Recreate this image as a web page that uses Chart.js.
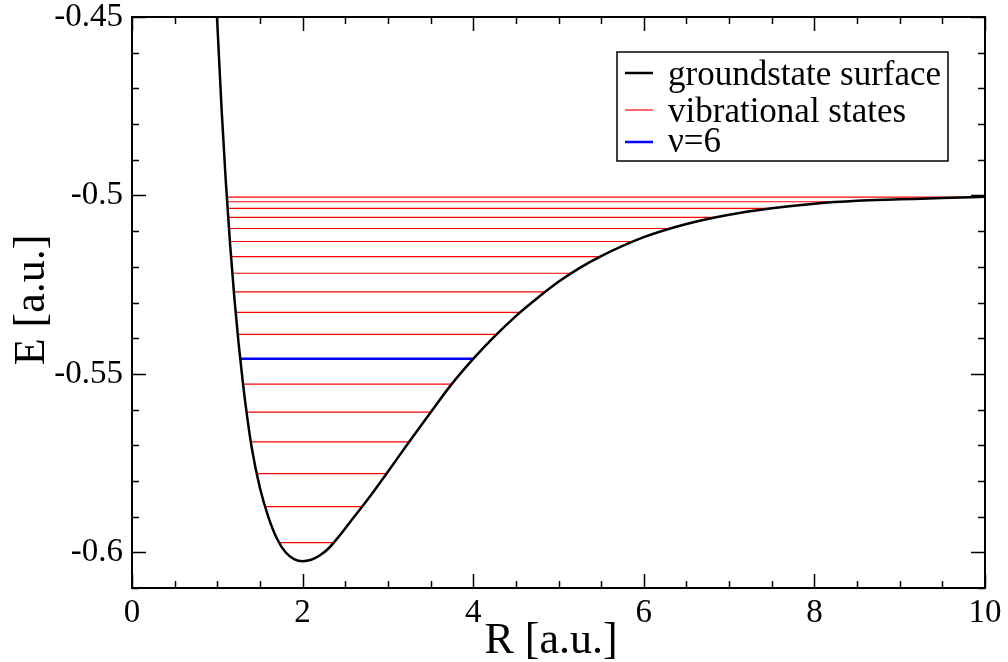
<!DOCTYPE html>
<html>
<head>
<meta charset="utf-8">
<script src="https://cdn.jsdelivr.net/npm/chart.js@4/dist/chart.umd.min.js"></script>
<style>
  html, body { margin: 0; padding: 0; background: #fff; }
  canvas { display: block; }
</style>
</head>
<body>
<canvas id="pes" width="1008" height="662"></canvas>
<script>
// groundstate surface, E(R)
const curveR = [0.99, 1.0, 1.05, 1.1, 1.15, 1.2, 1.25, 1.3, 1.35, 1.4, 1.5, 1.6, 1.7, 1.8, 1.9, 2.0,
    2.1, 2.2, 2.3, 2.4, 2.6, 2.8, 3.0, 3.25, 3.5, 3.75, 4.0, 4.25, 4.5, 4.75, 5.0, 5.25, 5.5,
    6.0, 6.5, 7.0, 7.5, 8.0, 8.5, 9.0, 9.5, 10.0];
const curveE = [-0.4473, -0.4517, -0.4757, -0.4962, -0.5137, -0.5287, -0.5415, -0.5525, -0.5620, -0.5702,
    -0.5820, -0.5902, -0.5962, -0.6000, -0.6019, -0.6025, -0.6021, -0.6009, -0.5990, -0.5963,
    -0.5902, -0.5840, -0.5774, -0.5690, -0.5608, -0.5528, -0.5458, -0.5395, -0.5338, -0.5288,
    -0.5242, -0.5203, -0.5170, -0.5117, -0.5080, -0.5054, -0.5036, -0.5023, -0.5015, -0.5011,
    -0.5007, -0.5004];

// vibrational levels: energy and classical turning points
const levelE = [-0.59731, -0.58720, -0.57794, -0.56904, -0.56071, -0.55285, -0.54575, -0.53893,
    -0.53275, -0.52703, -0.52181, -0.51712, -0.51291, -0.50926, -0.50617, -0.50365, -0.50177, -0.50048];
const levelRin = [1.715, 1.559, 1.462, 1.395, 1.345, 1.305, 1.266, 1.246, 1.219, 1.199, 1.184,
    1.169, 1.157, 1.149, 1.137, 1.129, 1.122, 1.110];
const levelRout = [2.368, 2.705, 2.986, 3.247, 3.502, 3.748, 4.001, 4.275, 4.549, 4.842, 5.143,
    5.506, 5.873, 6.307, 6.835, 7.49, 8.335, 9.79];
const highlightLevel = 6;

const xTicks = [0, 2, 4, 6, 8, 10];
const yTicks = [-0.6, -0.55, -0.5, -0.45];
const yTickLabels = ["-0.6", "-0.55", "-0.5", "-0.45"];

const seriesLabels = ["groundstate surface", "vibrational states", "\u03bd=6"];
const seriesColors = ["#000000", "#ff0000", "#0000ff"];

const SERIF = "'Liberation Serif', 'Times New Roman', serif";

// build datasets
const curvePoints = curveR.map((r, i) => ({ x: r, y: curveE[i] }));
const levelPoints = [];
levelE.forEach((e, i) => {
    if (i === highlightLevel) return;
    levelPoints.push({ x: levelRin[i], y: e }, { x: levelRout[i], y: e }, { x: null, y: null });
});
const bluePoints = [
    { x: levelRin[highlightLevel], y: levelE[highlightLevel] },
    { x: levelRout[highlightLevel], y: levelE[highlightLevel] }
];

// frame, inward ticks, axis titles and legend box (xmgrace look)
const gracePlugin = {
    id: "grace",
    afterDraw(chart) {
        const { ctx, chartArea: a, scales } = chart;
        const xs = scales.x, ys = scales.y;
        ctx.save();
        ctx.strokeStyle = "#000";
        ctx.lineWidth = 1.5;
        ctx.beginPath();
        for (let v = 0; v <= 10.001; v += 0.5) {
            const px = Math.round(xs.getPixelForValue(v)) + 0.5;
            const len = Math.abs(v / 2 - Math.round(v / 2)) < 1e-6 ? 14 : 7;
            ctx.moveTo(px, a.bottom); ctx.lineTo(px, a.bottom - len);
            ctx.moveTo(px, a.top); ctx.lineTo(px, a.top + len);
        }
        for (let k = -61; k <= -45; k++) {
            const v = k / 100;
            const py = Math.round(ys.getPixelForValue(v)) + 0.5;
            const len = (k % 5 === 0) ? 14 : 7;
            ctx.moveTo(a.left, py); ctx.lineTo(a.left + len, py);
            ctx.moveTo(a.right, py); ctx.lineTo(a.right - len, py);
        }
        ctx.stroke();

        ctx.lineWidth = 2;
        ctx.strokeRect(a.left, a.top, a.right - a.left, a.bottom - a.top);

        // axis titles
        ctx.fillStyle = "#000";
        ctx.font = "44px " + SERIF;
        ctx.textAlign = "center";
        ctx.textBaseline = "alphabetic";
        ctx.fillText("R [a.u.]", 551, 653);
        ctx.save();
        ctx.translate(44, 300);
        ctx.rotate(-Math.PI / 2);
        ctx.fillText("E [a.u.]", 0, 0);
        ctx.restore();

        // legend
        ctx.lineWidth = 1.5;
        ctx.strokeRect(617, 52, 331, 109);
        const sampleY = [73, 110, 142];
        const textY = [85, 122, 152];
        const widths = [2.5, 1.2, 2.5];
        ctx.font = "35px " + SERIF;
        ctx.textAlign = "left";
        seriesLabels.forEach((lab, i) => {
            ctx.strokeStyle = seriesColors[i];
            ctx.lineWidth = widths[i];
            ctx.beginPath();
            ctx.moveTo(625, sampleY[i]);
            ctx.lineTo(653, sampleY[i]);
            ctx.stroke();
            ctx.fillText(lab, 668, textY[i]);
        });
        ctx.restore();
    }
};

const ctx = document.getElementById("pes").getContext("2d");
new Chart(ctx, {
    type: "line",
    data: {
        datasets: [
            {
                label: seriesLabels[0],
                data: curvePoints,
                borderColor: seriesColors[0],
                borderWidth: 2.5,
                pointRadius: 0,
                cubicInterpolationMode: "monotone",
                clip: 0
            },
            {
                label: seriesLabels[2],
                data: bluePoints,
                borderColor: seriesColors[2],
                borderWidth: 2.5,
                pointRadius: 0
            },
            {
                label: seriesLabels[1],
                data: levelPoints,
                borderColor: seriesColors[1],
                borderWidth: 1.2,
                pointRadius: 0,
                spanGaps: false
            }
        ]
    },
    options: {
        responsive: false,
        devicePixelRatio: 1,
        animation: false,
        layout: { padding: { top: 17, right: 23, left: 0, bottom: 0 } },
        plugins: {
            legend: { display: false },
            tooltip: { enabled: false }
        },
        scales: {
            x: {
                type: "linear",
                min: 0,
                max: 10,
                grid: { display: false, drawTicks: false },
                border: { display: false },
                afterBuildTicks: s => { s.ticks = xTicks.map(v => ({ value: v })); },
                afterFit: s => { s.height = 74; s.paddingLeft = 0; s.paddingRight = 0; },
                ticks: {
                    color: "#000",
                    padding: 6,
                    maxRotation: 0,
                    font: { family: SERIF, size: 33 },
                    callback: v => String(v)
                }
            },
            y: {
                type: "linear",
                min: -0.61,
                max: -0.45,
                grid: { display: false, drawTicks: false },
                border: { display: false },
                afterBuildTicks: s => { s.ticks = yTicks.map(v => ({ value: v })); },
                afterFit: s => { s.width = 132; s.paddingTop = 0; s.paddingBottom = 0; },
                ticks: {
                    color: "#000",
                    padding: 9,
                    font: { family: SERIF, size: 33 },
                    callback: (v, i) => yTickLabels[i]
                }
            }
        }
    },
    plugins: [gracePlugin]
});
</script>
</body>
</html>
